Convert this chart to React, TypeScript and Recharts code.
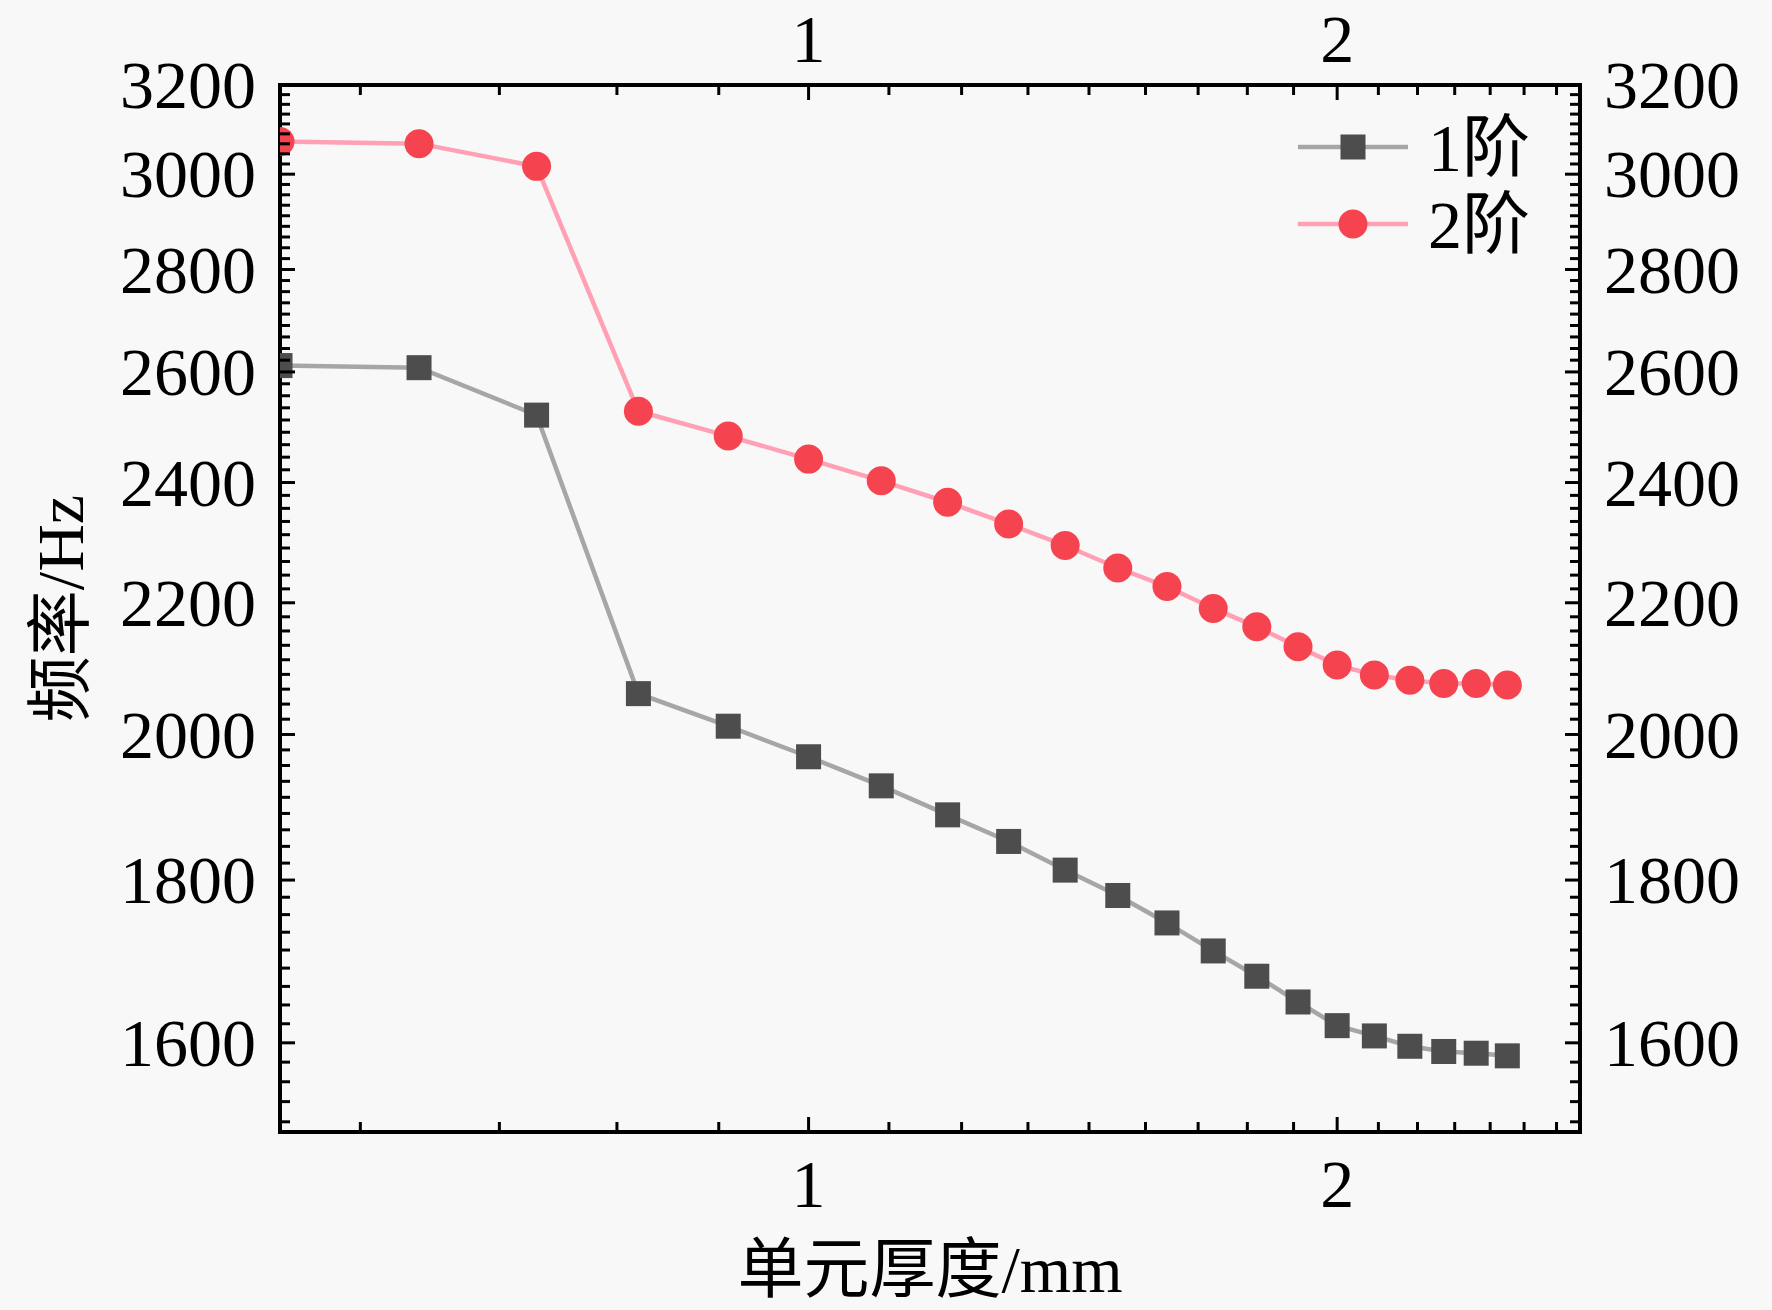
import { Line, LineChart, XAxis, YAxis } from 'recharts'

// element thickness (mm) and the first two natural frequencies (Hz)
const thickness = [0.5, 0.6, 0.7, 0.8, 0.9, 1.0, 1.1, 1.2, 1.3, 1.4, 1.5, 1.6, 1.7, 1.8, 1.9, 2.0, 2.1, 2.2, 2.3, 2.4, 2.5]
const mode1 = [2612, 2608, 2520, 2060, 2012, 1968, 1927, 1887, 1851, 1813, 1780, 1745, 1710, 1679, 1648, 1620, 1608, 1596, 1590, 1588, 1585]
const mode2 = [3072, 3067, 3017, 2527, 2482, 2441, 2403, 2366, 2329, 2293, 2256, 2226, 2191, 2162, 2131, 2103, 2088, 2080, 2075, 2075, 2073]

const seriesNames = ['1阶', '2阶']
const xMajorTicks = [1, 2]
const yMajorTicks = [1600, 1800, 2000, 2200, 2400, 2600, 2800, 3000, 3200]
const xTitle = '单元厚度/mm'
const yTitle = '频率/Hz'

const X_DOMAIN: [number, number] = [0.5, 2.75]
const Y_DOMAIN: [number, number] = [1500, 3200]

const FONT = '"Liberation Serif", "Noto Sans CJK SC", serif'
const FONT_SIZE = 68
const TITLE_SIZE = 66
const GRAY_LINE = '#a6a6a6'
const GRAY_MARK = '#4d4d4d'
const PINK_LINE = '#ffa0b4'
const RED_MARK = '#f5434f'

const rows = thickness.map((x, i) => ({ x, mode1: mode1[i], mode2: mode2[i] }))

// major ticks plus 8 evenly spaced minor ticks between them
function buildTicks(start: number, step: number, parts: number, lo: number, hi: number) {
  const out: number[] = []
  for (let base = start; base <= hi + 1e-9; base += step) {
    for (let k = 0; k < parts; k++) {
      const v = base + (step * k) / parts
      if (v >= lo - 1e-9 && v <= hi + 1e-9) out.push(+v.toFixed(6))
    }
  }
  return out
}

const xTicks = buildTicks(0, 1, 9, X_DOMAIN[0], X_DOMAIN[1])
const yTicks = buildTicks(1400, 200, 9, Y_DOMAIN[0], Y_DOMAIN[1])

function isMajor(v: number, majors: number[]) {
  return majors.some((m) => Math.abs(m - v) < 1e-6)
}

function makeTick(side: 'left' | 'right' | 'top' | 'bottom', majors: number[]) {
  return (props: any) => {
    const { x, y, payload, index } = props
    const v = payload.value
    const major = isMajor(v, majors)
    const len = major ? 15 : 10
    const label = major ? String(v) : ''
    const text = { fontFamily: FONT, fontSize: FONT_SIZE, fill: '#000' }
    if (side === 'left') {
      return (
        <g key={`l-${index}`}>
          <line x1={x} y1={y} x2={x + len} y2={y} stroke="#000" strokeWidth={3} />
          {label ? <text x={x - 24} y={y} dy="0.34em" textAnchor="end" {...text}>{label}</text> : null}
        </g>
      )
    }
    if (side === 'right') {
      return (
        <g key={`r-${index}`}>
          <line x1={x} y1={y} x2={x - len} y2={y} stroke="#000" strokeWidth={3} />
          {label ? <text x={x + 24} y={y} dy="0.34em" textAnchor="start" {...text}>{label}</text> : null}
        </g>
      )
    }
    if (side === 'bottom') {
      return (
        <g key={`b-${index}`}>
          <line x1={x} y1={y} x2={x} y2={y - len} stroke="#000" strokeWidth={3} />
          {label ? <text x={x} y={y + 52} dy="0.34em" textAnchor="middle" {...text}>{label}</text> : null}
        </g>
      )
    }
    return (
      <g key={`t-${index}`}>
        <line x1={x} y1={y} x2={x} y2={y + len} stroke="#000" strokeWidth={3} />
        {label ? <text x={x} y={y - 46} dy="0.34em" textAnchor="middle" {...text}>{label}</text> : null}
      </g>
    )
  }
}

function SquareDot(props: any) {
  const { cx, cy, index } = props
  if (cx == null || cy == null) return <g key={`sq-${index}`} />
  return <rect key={`sq-${index}`} x={cx - 12.5} y={cy - 12.5} width={25} height={25} fill={GRAY_MARK} />
}

function CircleDot(props: any) {
  const { cx, cy, index } = props
  if (cx == null || cy == null) return <g key={`ci-${index}`} />
  return <circle key={`ci-${index}`} cx={cx} cy={cy} r={14.5} fill={RED_MARK} />
}

const axisLine = { stroke: '#000', strokeWidth: 4, strokeLinecap: 'square' as const }

export default function App() {
  return (
    <div style={{ position: 'absolute', left: 0, top: 0, width: 1772, height: 1310, background: '#f8f8f8' }}>
      <LineChart
        width={1772}
        height={1310}
        data={rows}
        margin={{ top: 84, right: 191, bottom: 177, left: 279 }}
      >
        <XAxis
          xAxisId="bottom"
          type="number"
          dataKey="x"
          scale="log"
          domain={X_DOMAIN}
          allowDataOverflow
          ticks={xTicks}
          interval={0}
          height={1}
          tickSize={0}
          tickMargin={0}
          tickLine={false}
          axisLine={axisLine}
          tick={makeTick('bottom', xMajorTicks)}
          label={{
            content: (p: any) => {
              const vb = p.viewBox
              return (
                <text
                  x={vb.x + vb.width / 2}
                  y={vb.y + 160}
                  textAnchor="middle"
                  fontFamily={FONT}
                  fontSize={TITLE_SIZE}
                  fill="#000"
                >
                  {xTitle}
                </text>
              )
            },
          }}
        />
        <XAxis
          xAxisId="top"
          orientation="top"
          type="number"
          dataKey="x"
          scale="log"
          domain={X_DOMAIN}
          allowDataOverflow
          ticks={xTicks}
          interval={0}
          height={1}
          tickSize={0}
          tickMargin={0}
          tickLine={false}
          axisLine={axisLine}
          tick={makeTick('top', xMajorTicks)}
        />
        <YAxis
          yAxisId="left"
          type="number"
          scale="log"
          domain={Y_DOMAIN}
          allowDataOverflow
          ticks={yTicks}
          interval={0}
          width={1}
          tickSize={0}
          tickMargin={0}
          tickLine={false}
          axisLine={axisLine}
          tick={makeTick('left', yMajorTicks)}
          label={{
            content: (p: any) => {
              const vb = p.viewBox
              const cx = 60
              const cy = vb.y + vb.height / 2
              return (
                <text
                  x={cx}
                  y={cy}
                  dy="0.35em"
                  textAnchor="middle"
                  transform={`rotate(-90 ${cx} ${cy})`}
                  fontFamily={FONT}
                  fontSize={TITLE_SIZE}
                  fill="#000"
                >
                  {yTitle}
                </text>
              )
            },
          }}
        />
        <YAxis
          yAxisId="right"
          orientation="right"
          type="number"
          scale="log"
          domain={Y_DOMAIN}
          allowDataOverflow
          ticks={yTicks}
          interval={0}
          width={1}
          tickSize={0}
          tickMargin={0}
          tickLine={false}
          axisLine={axisLine}
          tick={makeTick('right', yMajorTicks)}
        />
        <Line
          xAxisId="bottom"
          yAxisId="left"
          dataKey="mode1"
          name={seriesNames[0]}
          type="linear"
          stroke={GRAY_LINE}
          strokeWidth={4.5}
          dot={SquareDot}
          activeDot={false}
          isAnimationActive={false}
        />
        <Line
          xAxisId="bottom"
          yAxisId="left"
          dataKey="mode2"
          name={seriesNames[1]}
          type="linear"
          stroke={PINK_LINE}
          strokeWidth={4.5}
          dot={CircleDot}
          activeDot={false}
          isAnimationActive={false}
        />
      </LineChart>
      <svg
        width={1772}
        height={1310}
        style={{ position: 'absolute', left: 0, top: 0, pointerEvents: 'none' }}
      >
        {seriesNames.map((name, i) => {
          const y = 147 + i * 77
          return (
            <g key={name}>
              <line x1={1298} y1={y} x2={1408} y2={y} stroke={i === 0 ? GRAY_LINE : PINK_LINE} strokeWidth={4.5} />
              {i === 0 ? (
                <rect x={1340.5} y={y - 12.5} width={25} height={25} fill={GRAY_MARK} />
              ) : (
                <circle cx={1353} cy={y} r={14.5} fill={RED_MARK} />
              )}
              <text x={1428} y={y} dy="0.35em" fontFamily={FONT} fontSize={FONT_SIZE} fill="#000">
                {name}
              </text>
            </g>
          )
        })}
      </svg>
    </div>
  )
}
